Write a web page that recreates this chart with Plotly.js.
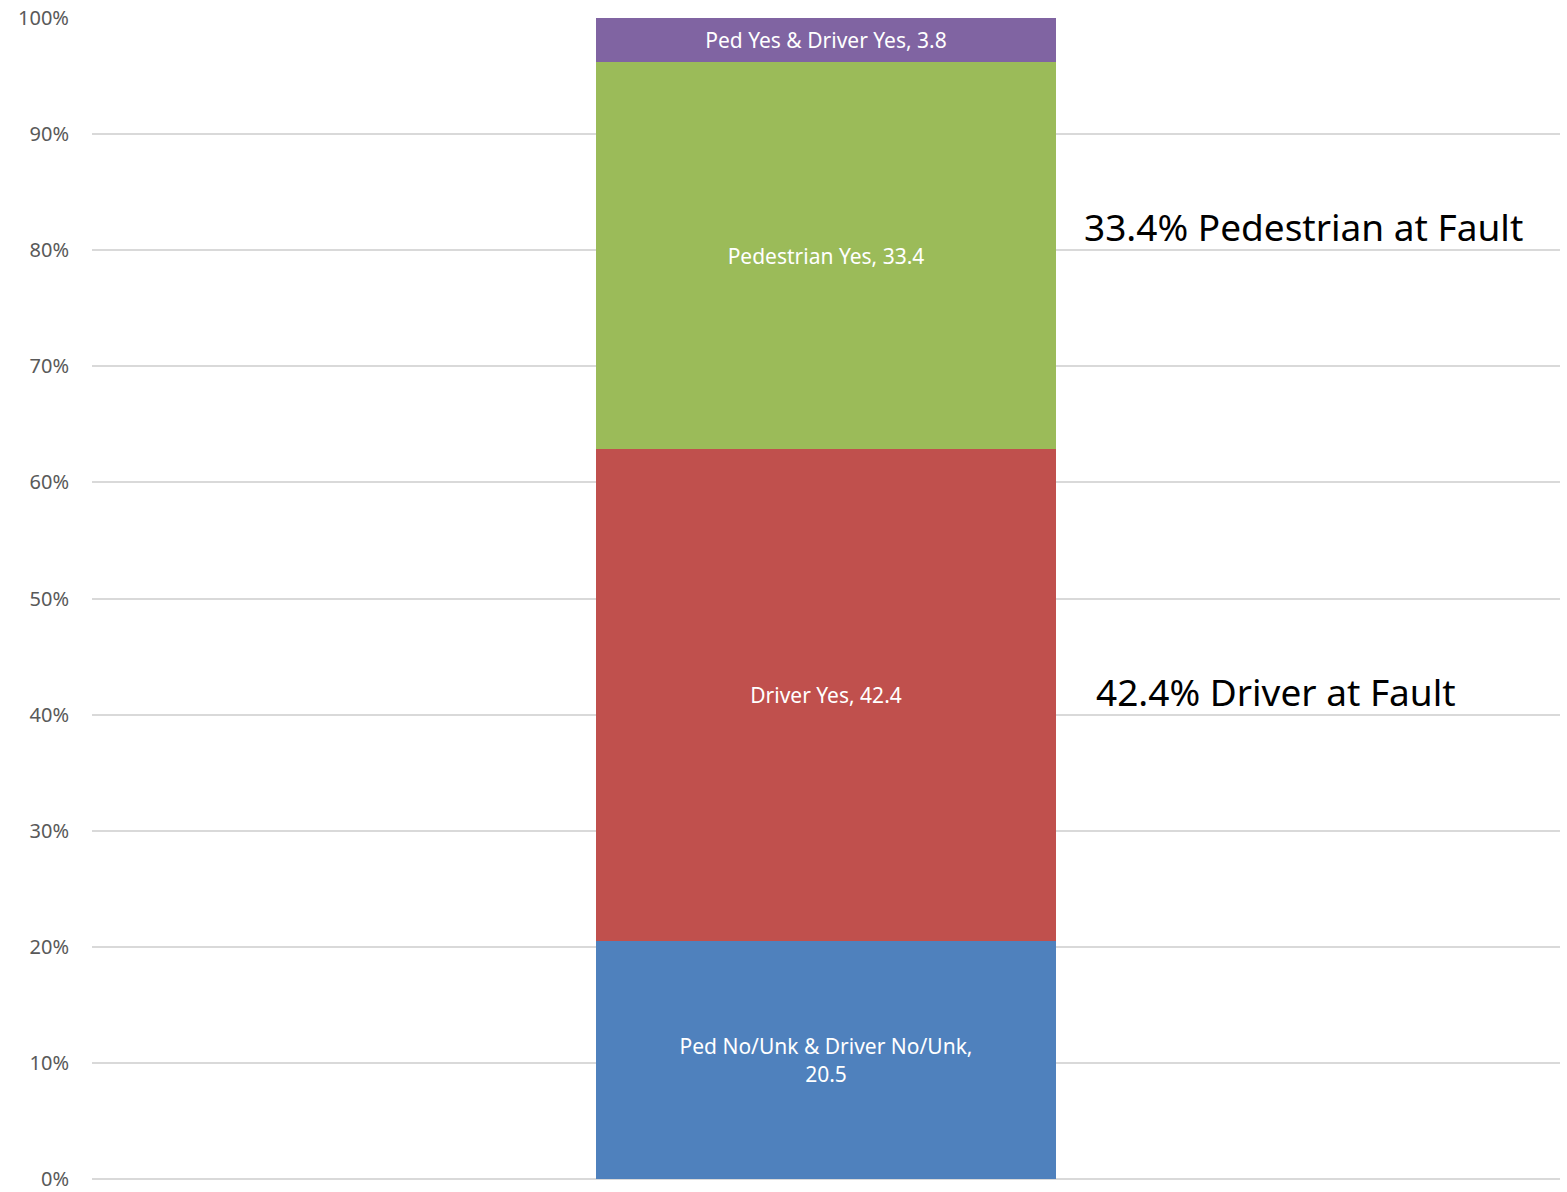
<!DOCTYPE html>
<html>
<head>
<meta charset="utf-8">
<script src="https://cdn.plot.ly/plotly-3.0.1.min.js"></script>
<style>html,body{margin:0;padding:0;background:#fff;}#chart{width:1567px;height:1192px;}</style>
</head>
<body>
<div id="chart"></div>
<script>
const seriesNames = ['Ped No/Unk & Driver No/Unk', 'Driver Yes', 'Pedestrian Yes', 'Ped Yes & Driver Yes'];
const seriesValues = [20.5, 42.4, 33.4, 3.8];
const seriesLabels = ['Ped No/Unk & Driver No/Unk,<br>20.5', 'Driver Yes, 42.4', 'Pedestrian Yes, 33.4', 'Ped Yes & Driver Yes, 3.8'];
const seriesColors = ['#4F81BD', '#C0504D', '#9BBB59', '#8064A2'];
const yTickVals = [0, 10, 20, 30, 40, 50, 60, 70, 80, 90, 100];
const yTickText = ['0%', '10%', '20%', '30%', '40%', '50%', '60%', '70%', '80%', '90%', '100%'];
const noteTexts = ['33.4% Pedestrian at Fault', '42.4% Driver at Fault'];
const noteY = [82.0, 42.0];
const noteX = [0.8256, 0.8065];

const traces = seriesNames.map((n, i) => ({
  type: 'bar',
  name: n,
  x: [0],
  y: [seriesValues[i]],
  width: 0.314,
  marker: {color: seriesColors[i], line: {width: 0}},
  text: [seriesLabels[i]],
  textposition: 'inside',
  insidetextanchor: 'middle',
  textangle: 0,
  textfont: {family: 'Noto Sans, sans-serif', size: 21, color: '#ffffff'},
  hoverinfo: 'name+y'
}));

const layout = {
  width: 1567, height: 1192,
  margin: {l: 92, r: 7, t: 18, b: 13},
  barmode: 'stack',
  barnorm: 'percent',
  showlegend: false,
  paper_bgcolor: '#ffffff', plot_bgcolor: '#ffffff',
  xaxis: {range: [-0.5, 0.5], visible: false, fixedrange: true},
  yaxis: {
    range: [0, 100], tickmode: 'array', tickvals: yTickVals, ticktext: yTickText,
    showgrid: true, gridcolor: '#d9d9d9', gridwidth: 2,
    zeroline: true, zerolinecolor: '#d9d9d9', zerolinewidth: 2,
    showline: false, ticks: '', ticklabelstandoff: 22,
    tickfont: {family: 'Noto Sans, sans-serif', size: 20, color: '#595959'}
  },
  annotations: noteTexts.map((t, i) => ({
    text: t, xref: 'paper', yref: 'y', x: noteX[i], y: noteY[i],
    xanchor: 'center', yanchor: 'middle', showarrow: false,
    font: {family: 'Noto Sans, sans-serif', size: 37, color: '#000000'}
  }))
};

Plotly.newPlot('chart', traces, layout, {displayModeBar: false, staticPlot: true});
</script>
</body>
</html>
